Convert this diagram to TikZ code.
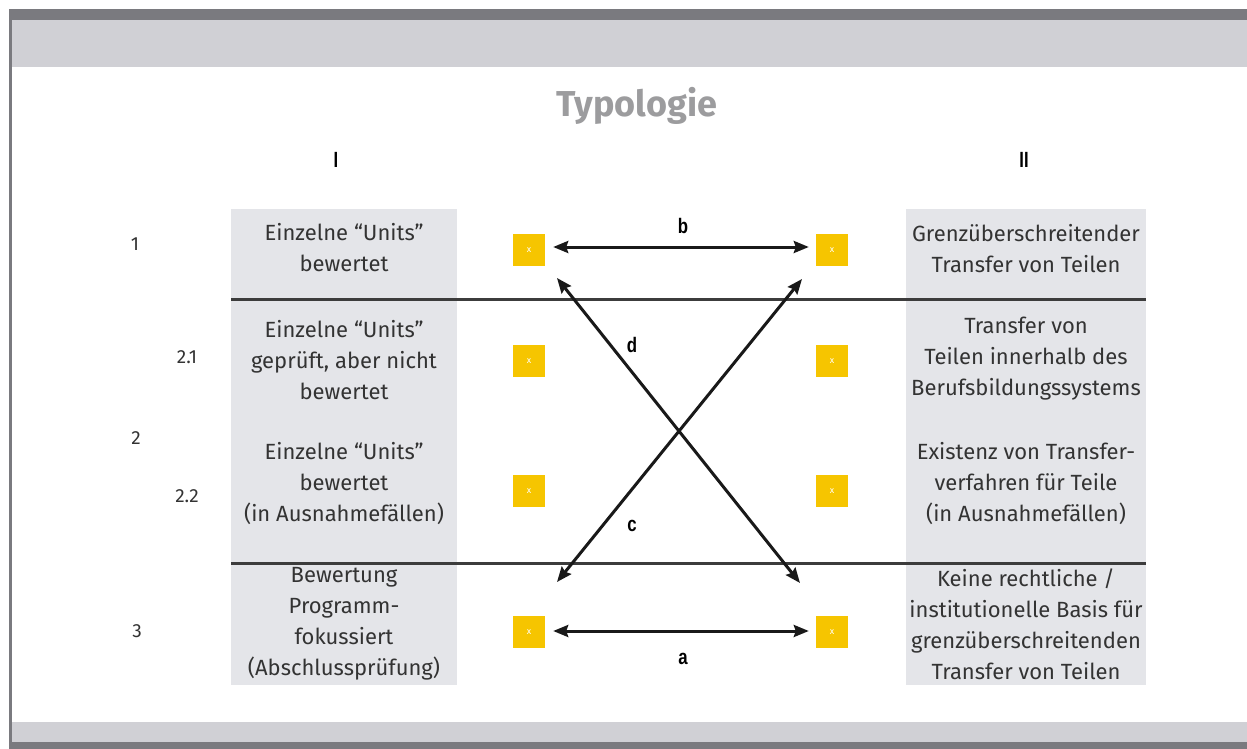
\documentclass[tikz,border=0pt]{standalone}
\usepackage{fontspec}
\setmainfont{Fira Sans}
\newfontfamily\lblfont{Liberation Sans}
\usetikzlibrary{arrows.meta}
\definecolor{darkbar}{HTML}{7A7A7F}
\definecolor{lightband}{HTML}{D0D0D5}
\definecolor{boxgray}{HTML}{E4E5E9}
\definecolor{txt}{HTML}{333333}
\definecolor{ttl}{HTML}{9C9C9E}
\definecolor{yel}{HTML}{F6C500}
\definecolor{sep}{HTML}{3C3C3C}
\tikzset{
  cell/.style={align=center, text=txt, font=\fontsize{22}{31}\selectfont},
  rownum/.style={text=txt, font=\fontsize{19}{20}\selectfont},
  colhead/.style={text=black, font=\lblfont\bfseries\fontsize{22}{24}\selectfont, xscale=0.75, transform shape},
  arrlbl/.style={text=black, font=\lblfont\bfseries\fontsize{21}{24}\selectfont, xscale=0.8, transform shape},
  ysq/.style={fill=yel, minimum width=32pt, minimum height=32pt, inner sep=0pt, text=white, font=\fontsize{9}{9}\selectfont},
  conn/.style={draw=black!90, line width=3pt, {Stealth[length=15pt,width=12pt,inset=2pt]}-{Stealth[length=15pt,width=12pt,inset=2pt]}},
  sepline/.style={draw=sep, line width=3pt}
}
\begin{document}
\begin{tikzpicture}[x=1pt,y=-1pt]
\useasboundingbox (0,0) rectangle (1247,749);
% frame
\fill[white] (0,0) rectangle (1247,749);
\fill[lightband] (9,20) rectangle (1247,67);
\fill[darkbar] (9,9) rectangle (1247,20);
\fill[lightband] (9,722) rectangle (1247,742);
\fill[darkbar] (9,742) rectangle (1247,749);
\fill[darkbar] (9,9) rectangle (12,749);
% title
\node[text=ttl, font=\fontseries{sb}\selectfont\fontsize{36}{38}\selectfont] (title) at (637,106) {Typologie};
\node[colhead] (h1) at (336,160) {I};
\node[colhead] (h2) at (1024,160) {II};
% gray columns
\fill[boxgray] (231,209) rectangle (457,685);
\fill[boxgray] (906,209) rectangle (1146,685);
% separators
\coordinate (s1l) at (231,299);
\coordinate (s1r) at (1146,299);
\coordinate (s2l) at (231,563);
\coordinate (s2r) at (1146,563);
\draw[sepline] (s1l) -- (s1r);
\draw[sepline] (s2l) -- (s2r);
% row numbers
\node[rownum] (r1) at (135,244) {1};
\node[rownum] (r21) at (187,357) {2.1};
\node[rownum] (r2) at (136,438) {2};
\node[rownum] (r22) at (187,496) {2.2};
\node[rownum] (r3) at (137,631) {3};
% left cells
\node[cell] (l1) at (344,248) {Einzelne “Units”\\bewertet};
\node[cell] (l21) at (344,360) {Einzelne “Units”\\geprüft, aber nicht\\bewertet};
\node[cell] (l22) at (344,484) {Einzelne “Units”\\bewertet\\(in Ausnahmefällen)};
\node[cell] (l3) at (344,624) {Bewertung\\Programm-\\fokussiert\\(Abschlussprüfung)};
% right cells
\node[cell] (rr1) at (1026,249) {Grenzüberschreitender\\Transfer von Teilen};
\node[cell] (rr21) at (1026,359) {Transfer von\\Teilen innerhalb des\\Berufsbildungssystems};
\node[cell] (rr22) at (1026,484) {Existenz von Transfer-\\verfahren für Teile\\(in Ausnahmefällen)};
\node[cell] (rr3) at (1026,624) {Keine rechtliche /\\institutionelle Basis für\\grenzüberschreitenden\\Transfer von Teilen};
% yellow squares
\node[ysq] (y1l) at (529,250) {x};
\node[ysq] (y2l) at (529,361) {x};
\node[ysq] (y3l) at (529,491) {x};
\node[ysq] (y4l) at (529,632) {x};
\node[ysq] (y1r) at (832,250) {x};
\node[ysq] (y2r) at (832,361) {x};
\node[ysq] (y3r) at (832,491) {x};
\node[ysq] (y4r) at (832,632) {x};
% arrows
\draw[conn, shorten <=8pt, shorten >=7pt] ([yshift=3pt]y1l.east) -- ([yshift=3pt]y1r.west);
\draw[conn, shorten <=8pt, shorten >=7pt] ([yshift=1pt]y4l.east) -- ([yshift=1pt]y4r.west);
\coordinate (dA) at (557,278);
\coordinate (dB) at (800,583);
\coordinate (cA) at (802,279);
\coordinate (cB) at (557,582);
\draw[conn] (dA) -- (dB);
\draw[conn] (cA) -- (cB);
\node[arrlbl] (lb) at (683,226) {b};
\node[arrlbl] (la) at (683,659) {a};
\node[arrlbl] (ld) at (632,345) {d};
\node[arrlbl] (lc) at (632,526) {c};
\end{tikzpicture}
\end{document}
